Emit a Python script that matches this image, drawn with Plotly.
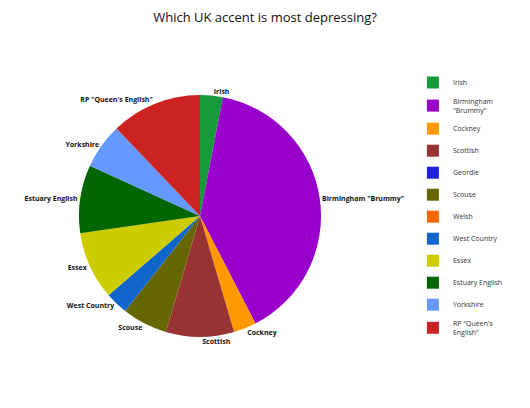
import plotly.graph_objects as go

# survey: which UK accent is most depressing (vote counts)
accents = ['Irish', 'Birmingham "Brummy"', 'Cockney', 'Scottish', 'Geordie', 'Scouse',
           'Welsh', 'West Country', 'Essex', 'Estuary English', 'Yorkshire', 'RP "Queen\'s English"']
votes = [1, 13, 1, 3, 0, 2, 0, 1, 3, 3, 2, 4]
legend_names = ['Irish', 'Birmingham<br>"Brummy"', 'Cockney', 'Scottish', 'Geordie', 'Scouse',
                'Welsh', 'West Country', 'Essex', 'Estuary English', 'Yorkshire', 'RP "Queen\'s<br>English"']
colors = ['#179a3c', '#9900cc', '#ff9900', '#993333', '#2020d8', '#666600',
          '#ff6600', '#1166cc', '#cccc00', '#006600', '#6699ff', '#cc2222']

FONT = 'Open Sans'

# no label for accents nobody picked
slice_text = [a if v > 0 else '' for a, v in zip(accents, votes)]

fig = go.Figure()

fig.add_trace(go.Pie(
    labels=accents,
    values=votes,
    text=slice_text,
    textinfo='text',
    textposition='outside',
    outsidetextfont=dict(family=FONT, size=7, color='#111', weight='bold'),
    marker=dict(colors=colors, line=dict(width=0)),
    sort=False,
    direction='clockwise',
    rotation=0,
    showlegend=False,
    domain=dict(x=[0, 0.7245], y=[0.1433, 0.9141]),
    hoverinfo='label+value+percent',
))

# legend built from the same categories so the entries can be spaced out
for name, c in zip(legend_names, colors):
    fig.add_trace(go.Scatter(
        x=[None], y=[None], mode='markers', name=name, legendgroup=name,
        marker=dict(symbol='square', size=12, color=c),
        hoverinfo='skip',
    ))

fig.update_layout(
    width=530, height=408,
    paper_bgcolor='white', plot_bgcolor='white',
    margin=dict(l=0, r=0, t=60, b=34, autoexpand=False),
    title=dict(text='Which UK accent is most depressing?', x=0.485, xanchor='center',
               y=0.978, yanchor='middle',
               font=dict(family=FONT, size=13, color='#111')),
    xaxis=dict(visible=False), yaxis=dict(visible=False),
    legend=dict(x=0.764, xanchor='left', y=1.0, yanchor='top',
                font=dict(family=FONT, size=7, color='#333'),
                tracegroupgap=3, maxheight=400, bgcolor='rgba(0,0,0,0)'),
)

fig.write_html("out.html")
